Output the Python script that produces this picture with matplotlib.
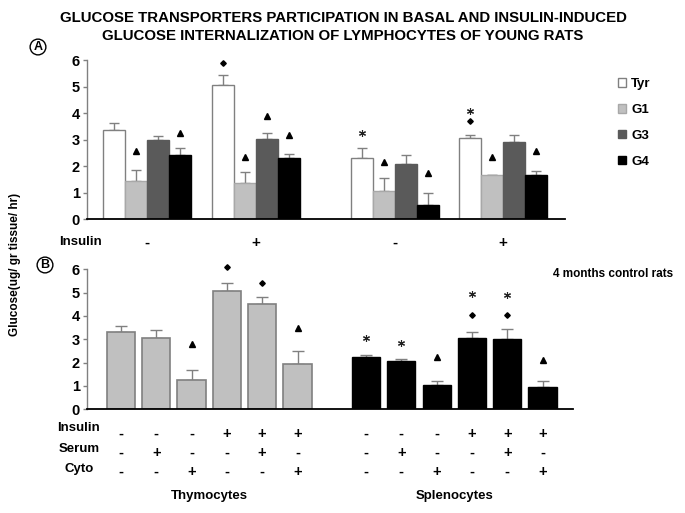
import matplotlib
matplotlib.use("Agg")
import matplotlib.pyplot as plt
from matplotlib.patches import Patch
from matplotlib.transforms import blended_transform_factory as btf

plt.rcParams['font.family'] = ['Liberation Sans', 'DejaVu Sans']

# ---------------- data ----------------
series_names = ["Tyr", "G1", "G3", "G4"]
insulin_A = ["-", "+", "-", "+"]
tyr = [3.35, 5.05, 2.31, 3.08]
tyr_err = [0.26, 0.37, 0.39, 0.09]
g1 = [1.45, 1.38, 1.08, 1.66]
g1_err = [0.39, 0.41, 0.48, 0.02]
g3 = [3.00, 3.02, 2.07, 2.90]
g3_err = [0.12, 0.24, 0.37, 0.26]
g4 = [2.44, 2.30, 0.55, 1.65]
g4_err = [0.23, 0.16, 0.45, 0.16]

# significance marks panel A: (group, series, symbol, y)
markA_group = [0, 0, 1, 1, 1, 1, 2, 2, 2, 3, 3, 3, 3]
markA_series = [1, 3, 0, 1, 2, 3, 0, 1, 3, 0, 0, 1, 3]
markA_symbol = ["^", "^", "D", "^", "^", "^", "*", "^", "^", "*", "D", "^", "^"]
markA_y = [2.58, 3.26, 5.90, 2.35, 3.90, 3.18, 3.25, 2.16, 1.76, 4.08, 3.70, 2.35, 2.57]

thy = [3.32, 3.05, 1.27, 5.05, 4.50, 1.94]
thy_err = [0.23, 0.37, 0.40, 0.37, 0.30, 0.56]
spl = [2.24, 2.06, 1.04, 3.07, 3.02, 0.96]
spl_err = [0.10, 0.10, 0.17, 0.23, 0.41, 0.25]
insulin_B = ["-", "-", "-", "+", "+", "+"]
serum_B = ["-", "+", "-", "-", "+", "-"]
cyto_B = ["-", "-", "+", "-", "-", "+"]

markB_cell = ["thy", "thy", "thy", "thy", "spl", "spl", "spl", "spl", "spl", "spl", "spl", "spl"]
markB_idx = [2, 3, 4, 5, 0, 1, 2, 3, 3, 4, 4, 5]
markB_symbol = ["^", "D", "D", "^", "*", "*", "^", "*", "D", "*", "D", "^"]
markB_y = [2.80, 6.12, 5.40, 3.47, 3.05, 2.86, 2.26, 4.95, 4.03, 4.88, 4.03, 2.12]

# ---------------- figure ----------------
W, H = 685, 513
fig = plt.figure(figsize=(W / 100, H / 100), dpi=100)
fig.patch.set_facecolor("white")

def fx(px):
    return px / W

def fy(py):
    return 1 - py / H

colors = ["white", "#c0c0c0", "#5a5a5a", "black"]
edges = ["#808080", "#a8a8a8", "#5a5a5a", "black"]
err_color = "#808080"

def mk(ax, x, y, sym):
    if sym == "^":
        ax.plot(x, y, marker="^", ms=5, color="black", mec="black", ls="none", clip_on=False)
    elif sym == "D":
        ax.plot(x, y, marker="D", ms=2.8, color="black", mec="black", ls="none", clip_on=False)
    else:
        ax.plot(x, y, marker=(6, 2, 0), ms=5, color="#222222", mew=0.8, ls="none", clip_on=False)

def style_axes(ax):
    for s in ["top", "right"]:
        ax.spines[s].set_visible(False)
    ax.spines["left"].set_color("#808080")
    ax.spines["left"].set_linewidth(1.0)
    ax.spines["bottom"].set_color("black")
    ax.spines["bottom"].set_linewidth(1.3)
    ax.set_xticks([])
    ax.set_ylim(0, 6)
    ax.set_yticks(range(0, 7))
    ax.tick_params(axis="y", length=3, width=1, color="#808080", pad=2)
    for t in ax.get_yticklabels():
        t.set_fontweight("bold")
        t.set_fontsize(10.5)

# ---------------- panel A ----------------
axA = fig.add_axes([fx(87), fy(219.3), fx(565) - fx(87), fy(60) - fy(219.3)])
group_start = [0, 4.95, 11.26, 16.16]
valsA = [tyr, g1, g3, g4]
errsA = [tyr_err, g1_err, g3_err, g4_err]
handles = []
for j in range(4):
    xs = [group_start[g] + j + 0.5 for g in range(4)]
    axA.bar(xs, valsA[j], width=1.0, color=colors[j], edgecolor=edges[j], linewidth=1.0, zorder=2)
    handles.append(Patch(facecolor=colors[j], edgecolor=edges[j], label=series_names[j]))
    axA.errorbar(xs, valsA[j], yerr=[[0] * 4, errsA[j]], fmt="none", ecolor=err_color,
                 elinewidth=1, capsize=3.5, capthick=1, zorder=1)
for g, s, sym, y in zip(markA_group, markA_series, markA_symbol, markA_y):
    mk(axA, group_start[g] + s + 0.5, y, sym)
axA.set_xlim(-0.73, 20.97)
style_axes(axA)

trA = btf(axA.transData, fig.transFigure)
for g, lab in enumerate(insulin_A):
    fig.text(group_start[g] + 2, fy(243), lab, transform=trA, ha="center", va="center",
             fontsize=11, fontweight="bold")
fig.text(fx(59), fy(242), "Insulin", ha="left", va="center", fontsize=9.5, fontweight="bold")

fig.legend(handles=handles, loc="upper left", bbox_to_anchor=(fx(606), fy(66)), frameon=False,
           handlelength=0.65, handleheight=0.65, handletextpad=0.35, labelspacing=1.05,
           prop={"weight": "bold", "size": 9.5})

# ---------------- panel B ----------------
axB = fig.add_axes([fx(87), fy(409.3), fx(573) - fx(87), fy(269.3) - fy(409.3)])
pitch = 1.0
thy_x = [i * pitch for i in range(6)]
spl_x = [6.94 + i * pitch for i in range(6)]
axB.bar(thy_x, thy, width=0.8, color="#c0c0c0", edgecolor="#808080", linewidth=1.2, zorder=2)
axB.errorbar(thy_x, thy, yerr=[[0] * 6, thy_err], fmt="none", ecolor=err_color,
             elinewidth=1, capsize=4, capthick=1, zorder=1)
axB.bar(spl_x, spl, width=0.8, color="black", edgecolor="black", linewidth=1.0, zorder=2)
axB.errorbar(spl_x, spl, yerr=[[0] * 6, spl_err], fmt="none", ecolor=err_color,
             elinewidth=1, capsize=4, capthick=1, zorder=1)
for cell, i, sym, y in zip(markB_cell, markB_idx, markB_symbol, markB_y):
    x = thy_x[i] if cell == "thy" else spl_x[i]
    mk(axB, x, y, sym)
axB.set_xlim(-0.96, 12.8)
style_axes(axB)

trB = btf(axB.transData, fig.transFigure)
rows = [insulin_B, serum_B, cyto_B]
row_y = [434, 453, 472]
for labs, py in zip(rows, row_y):
    for xs in (thy_x, spl_x):
        for x, lab in zip(xs, labs):
            fig.text(x, fy(py), lab, transform=trB, ha="center", va="center",
                     fontsize=10.5, fontweight="bold")
for lab, py in zip(["Insulin", "Serum", "Cyto"], [428, 449, 469]):
    fig.text(fx(79), fy(py), lab, ha="center", va="center", fontsize=9.5, fontweight="bold")
fig.text(sum(thy_x) / 6, fy(496), "Thymocytes", transform=trB, ha="center", va="center",
         fontsize=9.5, fontweight="bold")
fig.text(sum(spl_x) / 6, fy(496), "Splenocytes", transform=trB, ha="center", va="center",
         fontsize=9.5, fontweight="bold")

fig.text(fx(553), fy(274), "4 months control rats", ha="left", va="center",
         fontsize=8.5, fontweight="bold")

# ---------------- labels ----------------
fig.text(fx(343), fy(18), "GLUCOSE TRANSPORTERS PARTICIPATION IN BASAL AND INSULIN-INDUCED",
         ha="center", va="center", fontsize=10.8, fontweight="bold",
         family=["Liberation Sans Narrow", "Liberation Sans", "DejaVu Sans"])
fig.text(fx(343), fy(36), "GLUCOSE INTERNALIZATION OF LYMPHOCYTES OF YOUNG RATS",
         ha="center", va="center", fontsize=10.8, fontweight="bold",
         family=["Liberation Sans Narrow", "Liberation Sans", "DejaVu Sans"])
fig.text(fx(15), fy(264), "Glucose(ug/ gr tissue/ hr)", rotation=90, ha="center", va="center",
         fontsize=8.5, fontweight="bold")

for lab, (px, py) in zip(["A", "B"], [(38, 47), (45, 265)]):
    fig.text(fx(px), fy(py), lab, ha="center", va="center", fontsize=9, fontweight="bold",
             bbox=dict(boxstyle="circle,pad=0.15", facecolor="white", edgecolor="black", lw=1))

fig.savefig("out.png", dpi=100, facecolor="white")
